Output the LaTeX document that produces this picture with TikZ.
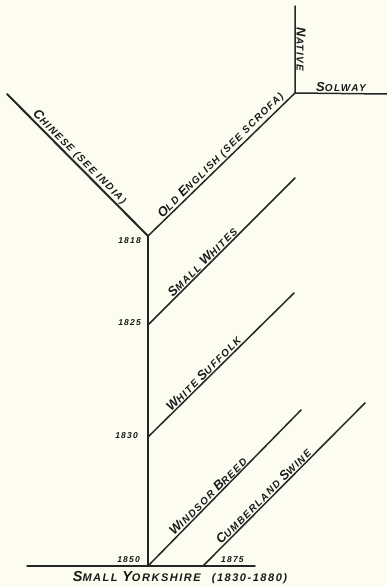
\documentclass[tikz,border=0pt]{standalone}
\usepackage{fontspec}
\newfontfamily\hand[LetterSpace=14]{Liberation Sans}
\newcommand\bc[1]{{\fontsize{13}{13}\selectfont #1}}
\newcommand\bct[1]{{\fontsize{14.5}{14.5}\selectfont #1}}
\tikzset{
  ln/.style={line width=1.5pt, draw=black!85, line cap=round},
  lab/.style={font=\hand\bfseries\itshape\fontsize{10}{11}\selectfont, text=black!90, inner sep=1.5pt},
  ttl/.style={font=\hand\bfseries\itshape\fontsize{11}{12}\selectfont, text=black!90, inner sep=0pt},
  yr/.style={font=\hand\bfseries\itshape\fontsize{8.5}{9}\selectfont, text=black!90, inner sep=0pt}
}
\begin{document}
\begin{tikzpicture}[x=1pt,y=-1pt]
\useasboundingbox[fill={rgb,255:red,252;green,252;blue,240}] (0,0) rectangle (387,586);
% junctions and end points
\coordinate (j1818) at (148,236);
\coordinate (j1825) at (148,325);
\coordinate (j1830) at (148,437);
\coordinate (j1850) at (148,566);
\coordinate (j1875) at (203,566);
\coordinate (chEnd) at (7,94);
\coordinate (oe) at (295,93);
\coordinate (natEnd) at (295,6);
\coordinate (solEnd) at (387,94);
\coordinate (swEnd) at (295,178);
\coordinate (wsEnd) at (294,293);
\coordinate (wbEnd) at (301,410);
\coordinate (cuEnd) at (365,403);
\coordinate (baseL) at (27,566);
\coordinate (baseR) at (255,566);
% lines
\draw[ln, line width=2pt] (chEnd) -- (j1818);
\draw[ln] (j1818) -- (oe);
\draw[ln] (natEnd) -- (oe) -- (solEnd);
\draw[ln] (j1818) -- (j1850);
\draw[ln] (j1825) -- (swEnd);
\draw[ln] (j1830) -- (wsEnd);
\draw[ln] (j1850) -- (wbEnd);
\draw[ln] (j1875) -- (cuEnd);
\draw[ln] (baseL) -- (baseR);
% labels along lines
\path (chEnd) -- (j1818) node[lab, pos=0.48, rotate=-45, anchor=south] (chin) {\bc{C}HINESE (SEE INDIA)};
\path (j1818) -- (oe) node[lab, pos=0.53, rotate=45, anchor=south] (olde) {\bc{O}LD \bc{E}NGLISH (SEE SCROFA)};
\path (natEnd) -- (oe) node[lab, pos=0.5, rotate=-90, anchor=south] (nat) {\bc{N}ATIVE};
\path (oe) -- (solEnd) node[lab, pos=0.5, anchor=south] (sol) {\bc{S}OLWAY};
\path (j1825) -- (swEnd) node[lab, pos=0.40, rotate=45, anchor=south] (sw) {\bc{S}MALL \bc{W}HITES};
\path (j1830) -- (wsEnd) node[lab, pos=0.41, rotate=45, anchor=south] (ws) {\bc{W}HITE \bc{S}UFFOLK};
\path (j1850) -- (wbEnd) node[lab, pos=0.42, rotate=45, anchor=south] (wb) {\bc{W}INDSOR \bc{B}REED};
\path (j1875) -- (cuEnd) node[lab, pos=0.40, rotate=45, anchor=south] (cu) {\bc{C}UMBERLAND \bc{S}WINE};
% years
\node[yr, anchor=east] (y1818) at ([xshift=-7pt, yshift=-5pt]j1818) {1818};
\node[yr, anchor=east] (y1825) at ([xshift=-7pt, yshift=2pt]j1825) {1825};
\node[yr, anchor=east] (y1830) at ([xshift=-10pt, yshift=1pt]j1830) {1830};
\node[yr, anchor=south east] (y1850) at ([xshift=-8pt, yshift=3pt]j1850) {1850};
\node[yr, anchor=south west] (y1875) at ([xshift=18pt, yshift=3pt]j1875) {1875};
% bottom title
\node[ttl, anchor=center] (title) at (180,578) {\bct{S}MALL \bct{Y}ORKSHIRE\quad(1830-1880)};
\end{tikzpicture}
\end{document}
